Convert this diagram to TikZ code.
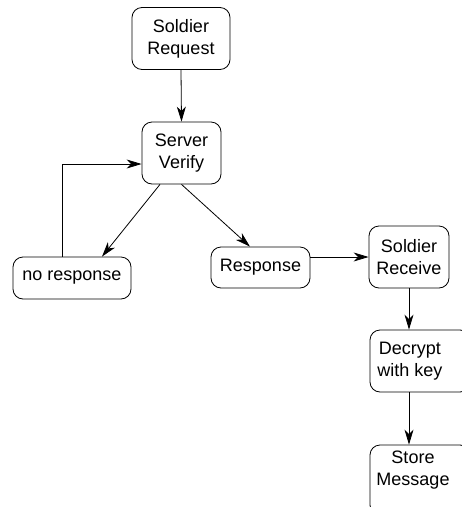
\documentclass[tikz,border=0pt]{standalone}
\usepackage{fontspec}
\setmainfont{Liberation Sans}
\usetikzlibrary{arrows.meta}
\begin{document}
\begin{tikzpicture}[x=1pt,y=-1pt,
  line width=0.8pt,
  every node/.style={font=\fontsize{18}{22}\selectfont},
  box/.style={draw, rounded corners=10pt, align=center, inner sep=0pt},
  bare/.style={align=center, inner sep=0pt},
  arr/.style={-{Stealth[length=15pt,width=9pt,inset=4.5pt]}}]
  \useasboundingbox (0,0) rectangle (462,507);
  \clip (0,0) rectangle (462,507);
  % process boxes
  \node[box, minimum width=98pt, minimum height=62pt] (req) at (181,38.5) {Soldier\\Request};
  \node[box, minimum width=79pt, minimum height=62pt] (ver) at (181.5,153) {Server\\Verify};
  \node[box, minimum width=118pt, minimum height=42pt] (nores) at (72,278) {no response};
  \node[box, minimum width=99pt, minimum height=41pt] (res) at (260.5,267.5) {Response};
  \node[box, minimum width=80pt, minimum height=62pt] (recv) at (409,257) {Soldier\\Receive};
  % lower boxes run past the right and bottom edges
  \node[box, minimum width=100pt, minimum height=62pt] (dec) at (420,361) {};
  \node[bare] (dect) at (410,361) {Decrypt\\with key};
  \node[box, minimum width=100pt, minimum height=70pt] (store) at (420,480) {};
  \node[bare] (storet) at (413,470) {Store\\Message};
  % connectors
  \draw[arr] (req.south) -- (ver.north);
  \draw[arr] ([xshift=-10pt]nores.north) |- ([yshift=-11pt]ver.west);
  \draw[arr] ([xshift=-21.5pt]ver.south) -- ([xshift=30pt]nores.north);
  \draw[arr] (ver.south) -- ([xshift=-10.5pt]res.north);
  \draw[arr] (res.east |- recv.west) -- (recv.west);
  \draw[arr] (recv.south) -- (recv.south |- dec.north);
  \draw[arr] (recv.south |- dec.south) -- (recv.south |- store.north);
\end{tikzpicture}
\end{document}
